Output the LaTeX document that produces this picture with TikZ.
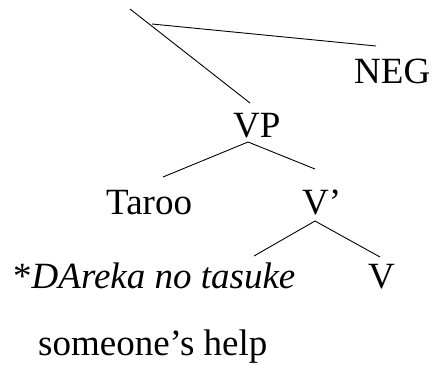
\documentclass[tikz,border=0pt]{standalone}
\usepackage{fontspec}
\setmainfont{Liberation Serif}
\begin{document}
\begin{tikzpicture}[x=1pt,y=-1pt,
  lbl/.style={anchor=base west,inner sep=0pt,font=\fontsize{37}{40}\selectfont},
  edge/.style={line width=0.9pt}]
\useasboundingbox (0,0) rectangle (432,373);
\node[lbl] (neg) at (354,83) {NEG};
\node[lbl] (vp) at (233,137) {VP};
\node[lbl] (taroo) at (106,214) {Taroo};
\node[lbl] (vbar) at (302,214) {V’};
\node[lbl] (obj) at (13,288) {*\textit{DAreka no tasuke}};
\node[lbl] (v) at (368,288) {V};
\node[lbl] (gloss) at (38,355) {someone’s help};
\coordinate (top) at (130,9);
\coordinate (vptop) at (250,103);
\coordinate (negl) at (152,24);
\coordinate (negr) at (376,46);
\coordinate (vpapex) at (248,142);
\coordinate (tarootop) at (163,177);
\coordinate (vbartop) at (315,169);
\coordinate (vbarapex) at (315,221);
\coordinate (objtop) at (254,256);
\coordinate (vtop) at (380,257);
\draw[edge] (top) -- (vptop);
\draw[edge] (negl) -- (negr);
\draw[edge] (tarootop) -- (vpapex) -- (vbartop);
\draw[edge] (objtop) -- (vbarapex) -- (vtop);
\end{tikzpicture}
\end{document}
